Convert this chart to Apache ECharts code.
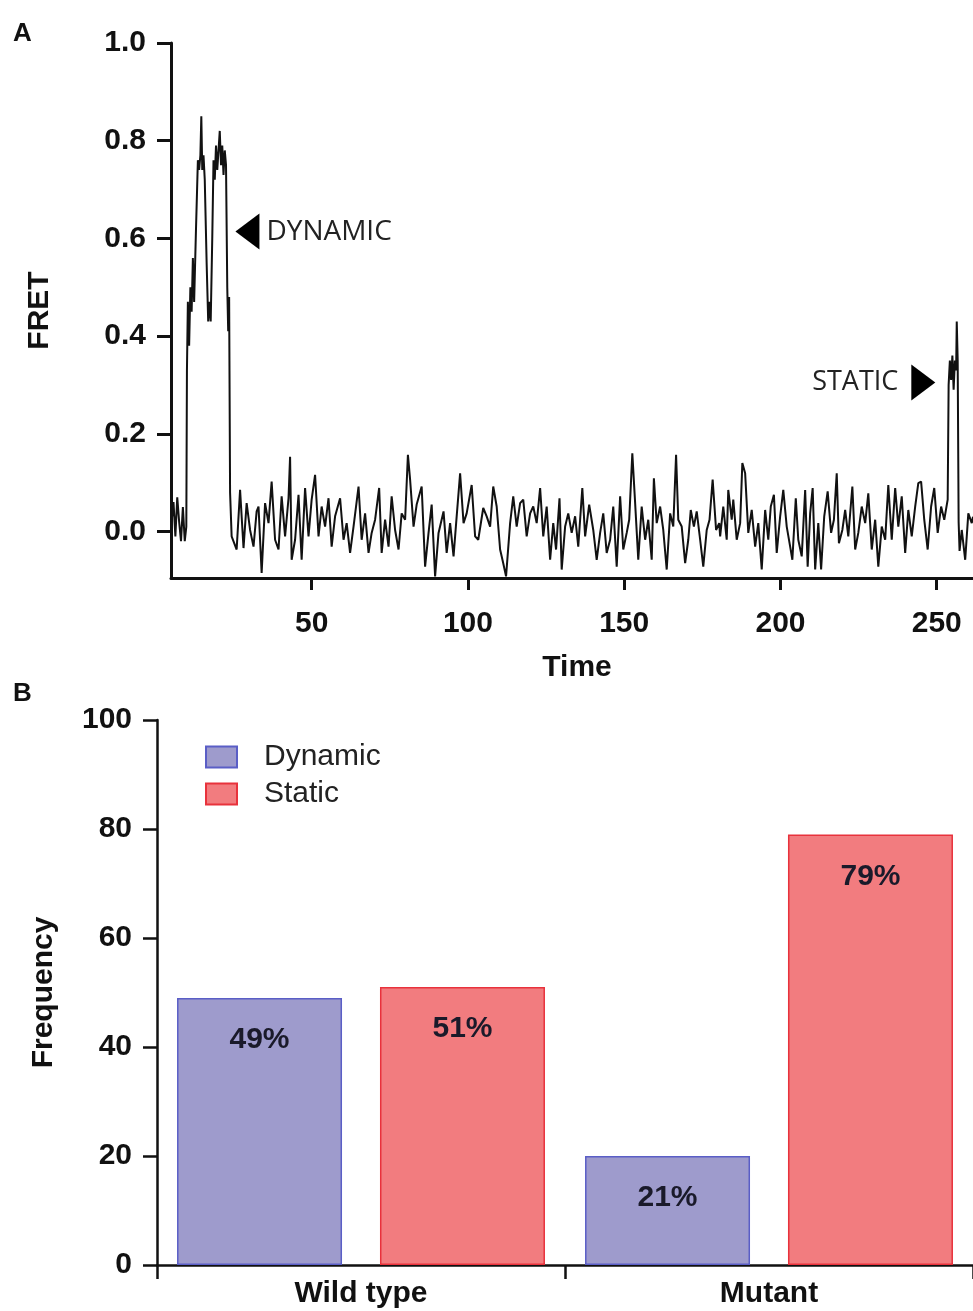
<!DOCTYPE html>
<html><head><meta charset="utf-8">
<script src="https://cdn.jsdelivr.net/npm/echarts@6/dist/echarts.min.js"></script>
<style>html,body{margin:0;padding:0;background:#fff}#c{width:973px;height:1311px}</style>
</head><body><div id="c"></div>
<script>
// ---- Panel A: FRET trace (time, FRET) ----
const timeA = [
5.0,5.2,5.8,6.4,7.0,7.6,8.2,8.8,9.4,9.9,
10.1,10.4,10.8,11.2,11.6,12.0,12.4,13.0,13.6,14.0,14.4,14.7,15.0,15.4,15.8,16.4,16.9,17.3,17.7,18.2,18.6,19.0,19.4,19.8,20.2,20.6,21.0,21.4,21.8,22.2,22.6,23.0,23.3,23.6,23.9,
24.4,26.0,27.1,28.2,29.2,30.3,31.4,32.4,33.0,34.0,35.1,36.2,37.2,38.3,39.4,40.4,41.5,42.6,43.1,43.6,44.7,45.8,46.8,47.9,49.0,50.0,
51.1,52.2,53.2,54.3,55.4,56.4,57.5,59.1,60.2,61.2,62.3,63.4,65.0,66.0,67.1,68.2,69.2,70.3,71.6,72.4,73.5,74.6,75.6,76.7,77.8,78.8,79.9,
80.8,81.5,82.6,83.6,85.2,86.3,87.4,88.4,89.5,90.6,92.2,93.2,94.3,95.4,96.4,97.5,98.6,99.6,101.2,
102.3,103.3,104.9,106.0,107.1,108.1,109.2,110.3,111.3,112.2,113.5,114.5,115.6,116.7,117.7,118.8,119.9,120.9,122.0,123.1,124.1,125.2,126.3,127.3,128.2,129.3,130.0,
131.1,132.1,133.2,134.3,135.3,136.6,137.5,138.8,140.1,141.2,142.3,143.3,144.4,145.5,146.5,147.6,148.7,149.7,150.8,151.6,152.6,153.5,154.5,155.6,156.7,157.7,158.8,159.5,
160.4,161.5,162.5,163.6,164.7,165.7,166.6,167.3,168.4,169.5,170.5,171.3,172.3,173.2,174.3,175.3,176.4,177.3,178.3,179.4,180.4,
180.7,181.7,182.8,183.3,184.4,184.9,186.0,187.1,187.8,188.7,189.7,190.8,191.9,192.9,194.0,195.1,196.1,196.9,197.9,198.8,199.9,
200.9,202.0,203.1,203.8,204.9,205.7,206.8,207.9,208.7,209.5,210.3,211.1,212.1,213.0,214.0,215.1,216.2,217.1,218.0,218.7,219.8,
220.7,221.7,223.0,223.9,224.9,226.0,227.1,228.1,229.2,230.3,231.3,232.4,233.5,234.5,235.6,236.7,237.7,238.8,239.9,240.9,
242.0,243.1,244.1,245.0,246.0,247.1,248.2,249.2,250.3,251.4,252.4,253.5,
253.8,254.2,254.6,255.0,255.4,255.8,256.2,256.4,256.7,257.0,257.3,258.0,259.1,260.1,261.2,261.6
];
const fretA = [
0.03,0.02,0.06,-0.01,0.07,0.02,-0.02,0.05,-0.02,0.01,
0.33,0.47,0.38,0.50,0.45,0.56,0.47,0.62,0.76,0.74,0.77,0.85,0.74,0.77,0.72,0.55,0.43,0.47,0.43,0.60,0.76,0.72,0.79,0.74,0.78,0.82,0.75,0.79,0.73,0.78,0.75,0.50,0.41,0.48,0.08,
-0.010,-0.037,0.085,-0.034,0.058,0.003,-0.031,0.041,0.051,-0.085,0.058,0.017,0.102,-0.017,-0.037,0.072,-0.010,0.068,0.153,-0.058,-0.017,0.075,-0.058,0.089,-0.010,0.065,
0.116,-0.010,0.051,0.010,0.068,-0.031,0.031,0.068,-0.017,0.017,-0.044,0.010,0.092,-0.017,0.037,-0.044,-0.003,0.024,0.089,-0.044,0.024,-0.031,0.072,0.003,-0.037,0.037,0.024,
0.157,0.106,0.010,0.055,0.092,-0.072,-0.003,0.055,-0.092,-0.003,0.041,-0.044,0.017,-0.051,0.031,0.119,0.017,0.037,0.095,
-0.010,-0.017,0.048,0.031,0.010,0.092,0.051,-0.037,-0.065,-0.092,0.017,0.072,0.010,0.058,0.065,-0.010,0.037,0.051,0.017,0.089,-0.010,0.051,-0.058,0.017,-0.037,0.068,-0.078,
0.010,0.037,-0.003,0.031,-0.031,0.089,-0.010,0.055,0.003,-0.058,-0.003,0.037,-0.044,-0.017,0.051,-0.072,0.072,-0.037,-0.003,0.024,0.160,0.058,-0.058,0.051,-0.017,0.024,-0.058,0.109,
0.017,0.051,0.003,-0.078,0.037,0.010,0.157,0.024,0.010,-0.065,-0.017,0.044,0.010,0.041,-0.017,-0.072,0.003,0.024,0.106,0.003,0.017,
-0.010,0.051,-0.017,0.085,0.024,0.065,-0.017,0.017,0.140,0.119,-0.003,0.044,-0.031,0.017,-0.078,0.044,-0.017,0.051,0.075,-0.044,0.031,
0.085,0.010,-0.031,-0.058,0.068,-0.017,-0.051,0.085,-0.072,0.037,0.089,-0.078,0.017,-0.078,0.031,0.082,-0.003,0.024,0.119,-0.024,0.003,
0.044,-0.010,0.092,-0.037,-0.003,0.051,0.017,0.078,-0.037,0.024,-0.072,0.010,-0.017,0.095,-0.017,0.089,0.010,0.072,-0.044,0.044,
-0.010,0.051,0.099,0.102,0.024,-0.037,0.051,0.089,-0.003,0.051,0.024,0.065,
0.30,0.35,0.31,0.36,0.29,0.35,0.33,0.43,0.35,0.02,-0.04,0.003,-0.058,0.037,0.017,0.03
];
const fretTicks = [0, 0.2, 0.4, 0.6, 0.8, 1.0];
const timeTicks = [50, 100, 150, 200, 250];

// ---- Panel B: frequency bars ----
const groups = ['Wild type', 'Mutant'];
const dynamicVals = [49, 20];
const staticVals = [51, 79];
const dynamicLabels = ['49%', '21%'];
const staticLabels = ['51%', '79%'];

const FONT = 'Liberation Sans, Arial, Helvetica, sans-serif';
const tickLbl = { fontFamily: FONT, fontWeight: 'bold', fontSize: 30, color: '#111' };
const nameLbl = { fontFamily: FONT, fontWeight: 'bold', fontSize: 30, color: '#111' };

const chart = echarts.init(document.getElementById('c'), null, { renderer: 'canvas' });
chart.setOption({
  animation: false,
  backgroundColor: '#fff',
  title: [
    { text: 'A', left: 13, top: 21, padding: 0, textStyle: { fontFamily: FONT, fontWeight: 'bold', fontSize: 26, color: '#111' } },
    { text: 'B', left: 13, top: 681, padding: 0, textStyle: { fontFamily: FONT, fontWeight: 'bold', fontSize: 26, color: '#111' } }
  ],
  grid: [
    { left: 171, top: 43, width: 802, height: 535 },
    { left: 157, top: 720, width: 818, height: 545 }
  ],
  legend: {
    data: ['Dynamic', 'Static'],
    orient: 'vertical', left: 205, top: 742, padding: 0,
    itemWidth: 31, itemHeight: 21, itemGap: 7, icon: 'rect',
    textStyle: { fontFamily: FONT, fontSize: 30, color: '#222', padding: [0, 0, 0, 22] }
  },
  xAxis: [
    {
      gridIndex: 0, type: 'value', min: 5, max: 261.6,
      name: 'Time', nameLocation: 'middle', nameGap: 75, nameTextStyle: Object.assign({ padding: [0, 0, 0, 10] }, nameLbl),
      axisLine: { onZero: false, lineStyle: { color: '#111', width: 3 } },
      axisTick: { show: true, customValues: timeTicks, length: 12, lineStyle: { color: '#111', width: 3 } },
      axisLabel: Object.assign({ customValues: timeTicks, margin: 31 }, tickLbl),
      splitLine: { show: false }
    },
    {
      gridIndex: 1, type: 'category', data: groups,
      axisLine: { onZero: false, lineStyle: { color: '#111', width: 2.5 } },
      axisTick: { show: true, alignWithLabel: false, length: 14, lineStyle: { color: '#111', width: 2.5 } },
      axisLabel: Object.assign({ margin: 14 }, tickLbl)
    }
  ],
  yAxis: [
    {
      gridIndex: 0, type: 'value', min: -0.0953, max: 1.0,
      name: 'FRET', nameLocation: 'middle', nameGap: 116, nameTextStyle: nameLbl,
      axisLine: { show: true, onZero: false, lineStyle: { color: '#111', width: 3 } },
      axisTick: { show: true, customValues: fretTicks, length: 14, lineStyle: { color: '#111', width: 3 } },
      axisLabel: Object.assign({ customValues: fretTicks, margin: 25, formatter: v => v.toFixed(1) }, tickLbl),
      splitLine: { show: false }
    },
    {
      gridIndex: 1, type: 'value', min: 0, max: 100, interval: 20,
      name: 'Frequency', nameLocation: 'middle', nameGap: 98, nameTextStyle: nameLbl,
      axisLine: { show: true, onZero: false, lineStyle: { color: '#111', width: 2.5 } },
      axisTick: { show: true, length: 14, lineStyle: { color: '#111', width: 2.5 } },
      axisLabel: Object.assign({ margin: 25 }, tickLbl),
      splitLine: { show: false }
    }
  ],
  series: [
    {
      type: 'line', xAxisIndex: 0, yAxisIndex: 0,
      data: timeA.map((t, i) => [t, fretA[i]]),
      showSymbol: false, symbol: 'none',
      lineStyle: { color: '#111', width: 2 },
      markPoint: {
        silent: true,
        data: [
          { coord: [29.45, 0.614], symbol: 'triangle', symbolRotate: 90, symbolSize: [36, 24], itemStyle: { color: '#000' }, label: { show: false } },
          { coord: [29.45, 0.614], symbol: 'rect', symbolSize: 0,
            label: { show: true, position: 'right', distance: 19, formatter: 'DYNAMIC', fontFamily: 'Open Sans, sans-serif', fontSize: 28, color: '#222' } },
          { coord: [245.7, 0.305], symbol: 'triangle', symbolRotate: -90, symbolSize: [36, 24], itemStyle: { color: '#000' }, label: { show: false } },
          { coord: [245.7, 0.305], symbol: 'rect', symbolSize: 0,
            label: { show: true, position: 'left', distance: 25, formatter: 'STATIC', fontFamily: 'Open Sans, sans-serif', fontSize: 27, color: '#222' } }
        ]
      }
    },
    {
      name: 'Dynamic', type: 'bar', xAxisIndex: 1, yAxisIndex: 1,
      data: dynamicVals, barWidth: 165, barGap: '23%',
      itemStyle: { color: '#9e9bcc', borderColor: '#5a5ec6', borderWidth: 1.5 },
      label: { show: true, position: 'insideTop', distance: 27, formatter: p => dynamicLabels[p.dataIndex],
        fontFamily: FONT, fontWeight: 'bold', fontSize: 30, color: '#1a1a2a' }
    },
    {
      name: 'Static', type: 'bar', xAxisIndex: 1, yAxisIndex: 1,
      data: staticVals, barWidth: 165, barGap: '23%',
      itemStyle: { color: '#f27c7f', borderColor: '#e8323c', borderWidth: 1.5 },
      label: { show: true, position: 'insideTop', distance: 27, formatter: p => staticLabels[p.dataIndex],
        fontFamily: FONT, fontWeight: 'bold', fontSize: 30, color: '#1a1a2a' }
    }
  ]
});
</script>
</body></html>
